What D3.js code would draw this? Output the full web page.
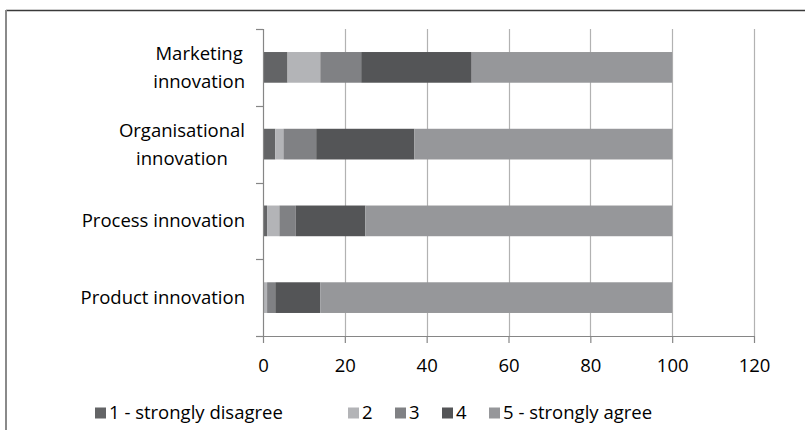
<!DOCTYPE html>
<html><head><meta charset="utf-8"><script src="https://cdn.jsdelivr.net/npm/d3@7"></script>
<style>body{margin:0;background:#fff}text{font-family:'Open Sans',sans-serif;fill:#000}</style></head>
<body>
<svg id="chart" width="805" height="430"></svg>
<script>
// ---- data ----
const categories = ["Marketing innovation", "Organisational innovation", "Process innovation", "Product innovation"];
const categoryLines = [["Marketing", "innovation"], ["Organisational", "innovation"], ["Process innovation"], ["Product innovation"]];
const seriesNames = ["1 - strongly disagree", "2", "3", "4", "5 - strongly agree"];
const s1 = [6, 3, 1, 0];
const s2 = [8, 2, 3, 1];
const s3 = [10, 8, 4, 2];
const s4 = [27, 24, 17, 11];
const s5 = [49, 63, 75, 86];
const xTicks = [0, 20, 40, 60, 80, 100, 120];
const colors = ["#636466", "#b3b4b7", "#808184", "#545557", "#96979a"];

// ---- layout ----
const W = 805, H = 430;
const plot = {left: 263, right: 754, top: 29, bottom: 336};
const FS = 18.5;
const legendX = [95, 348, 395, 442, 489];
const svg = d3.select("#chart");

// outer chart border
svg.append("line").attr("x1", 6).attr("x2", W).attr("y1", 10.5).attr("y2", 10.5).attr("stroke", "#3a3a3a").attr("stroke-width", 1.5);
svg.append("line").attr("x1", 6).attr("x2", 6).attr("y1", 10).attr("y2", H).attr("stroke", "#8a8a8a").attr("stroke-width", 2);

const x = d3.scaleLinear().domain([0, 120]).range([plot.left, plot.right]);
const y = d3.scaleBand().domain(categories).range([plot.top, plot.bottom]).paddingInner(0.6).paddingOuter(0.3);

// gridlines
svg.append("g").selectAll("line").data(xTicks.filter(d => d > 0)).join("line")
  .attr("x1", d => Math.round(x(d)) + 0.5).attr("x2", d => Math.round(x(d)) + 0.5)
  .attr("y1", plot.top).attr("y2", plot.bottom)
  .attr("stroke", "#b2b2b2").attr("stroke-width", 1.2);

// stacked bars
const table = categories.map((c, i) => ({cat: c, v: [s1[i], s2[i], s3[i], s4[i], s5[i]]}));
const keys = seriesNames.map((_, k) => k);
const stack = d3.stack().keys(keys).value((d, k) => d.v[k]);
const layers = stack(table);
svg.append("g").selectAll("g").data(layers).join("g")
  .attr("fill", (d, i) => colors[i])
  .selectAll("rect").data(d => d).join("rect")
  .attr("x", d => x(d[0])).attr("width", d => x(d[1]) - x(d[0]))
  .attr("y", d => y(d.data.cat)).attr("height", y.bandwidth());

// bottom value axis
const xAxis = d3.axisBottom(x).tickValues(xTicks).tickSize(7).tickSizeOuter(0).tickPadding(16);
const gx = svg.append("g").attr("transform", `translate(0,${plot.bottom})`).call(xAxis);
gx.select(".domain").attr("stroke", "#868686").attr("stroke-width", 1.2);
gx.selectAll(".tick line").attr("stroke", "#868686").attr("stroke-width", 1.2);
gx.selectAll(".tick text").attr("font-family", "'Open Sans', sans-serif").attr("font-size", FS).attr("fill", "#000").attr("dy", "0.71em");

// left category axis: line plus boundary ticks
svg.append("line").attr("x1", plot.left + 0.5).attr("x2", plot.left + 0.5).attr("y1", plot.top).attr("y2", plot.bottom)
  .attr("stroke", "#868686").attr("stroke-width", 1.2);
const bounds = categories.map(c => y(c) - y.step() * y.paddingInner() / 2).concat([plot.bottom]);
svg.append("g").selectAll("line").data(bounds).join("line")
  .attr("x1", plot.left - 7).attr("x2", plot.left).attr("y1", d => Math.round(d) + 0.5).attr("y2", d => Math.round(d) + 0.5)
  .attr("stroke", "#868686").attr("stroke-width", 1.2);

// category labels
const labelRight = 245, lineH = 27.8;
categories.forEach((c, i) => {
  const lines = categoryLines[i];
  const cy = y(c) + y.bandwidth() / 2;
  const g = svg.append("g");
  const texts = lines.map((ln, j) => g.append("text")
    .attr("font-size", FS).attr("text-anchor", "middle")
    .attr("y", cy + 6.5 + (j - (lines.length - 1) / 2) * lineH).text(ln));
  const maxW = d3.max(texts, t => t.node().getComputedTextLength());
  texts.forEach(t => t.attr("x", labelRight - maxW / 2));
});

// legend
const legY = 419;
const lg = svg.append("g");
seriesNames.forEach((n, i) => {
  lg.append("rect").attr("x", legendX[i]).attr("y", legY - 11.5).attr("width", 11).attr("height", 11).attr("fill", colors[i]);
  lg.append("text").attr("x", legendX[i] + 14).attr("y", legY).attr("font-size", FS).text(n);
});
</script></body></html>
